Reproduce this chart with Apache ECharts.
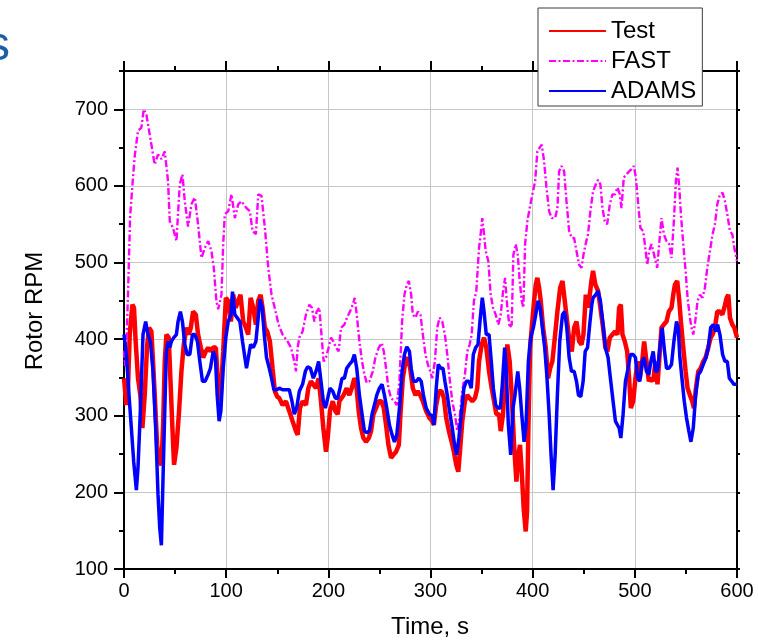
<!DOCTYPE html>
<html>
<head>
<meta charset="utf-8">
<script src="https://cdn.jsdelivr.net/npm/echarts@6/dist/echarts.min.js"></script>
<style>
html,body{margin:0;padding:0;background:#fff;}
#c{width:758px;height:641px;}
</style>
</head>
<body>
<div id="c"></div>
<script>
// ---- Data (time in s, rotor speed in RPM) ----
const testT = [0,2.3,3.9,5.6,8.2,9.8,11.4,13.7,16,18,20.3,22.5,24.5,26.8,28.4,30.1,32.4,34.3,36.6,38.2,39.9,41.5,43.8,45.4,47.4,49,51.3,53.9,56.2,58.5,61.1,63.4,65.4,67.6,70.3,72.5,75.2,77.5,80.1,82.4,84.6,87.3,89.9,92.2,94.4,97.1,99.7,102,104.6,106.9,109.2,111.8,114,116.7,119.3,121.6,123.9,126.5,129.1,131.4,133.7,135.6,137.9,140.2,142.8,145.4,147.7,
150,152,155.2,158.5,161.8,165,168.3,170,172.2,174.8,178.1,180.4,183,185.3,187.9,190.5,192.8,195.1,197.7,199.4,201.6,204.3,206.9,209.2,210.8,212.4,215,218,220.6,222.9,225.5,227.1,229.7,232,234.3,236.9,239.6,241.8,244.1,246.7,249.4,252,254.3,256.5,258.8,261.4,263.7,266.3,269,270.6,272.9,275.5,277.8,280.1,282.7,285.3,287.6,289.9,292.5,295.8,299,
301.7,303.3,305.6,308.2,310.9,313.1,315.4,318,320.7,322.9,325.2,327.2,329.1,331.1,333.7,336,338.3,340.9,343.5,345.8,347.5,350.1,352.4,354.6,357.3,359.9,362.2,364.4,367.1,368.7,371,373,375.2,377.5,379.5,381.8,384.1,386,387.6,389.3,391.2,393.2,394.5,395.8,397.5,399.1,401.4,403,404.6,406.3,407.9,410.2,412.8,415.1,417.1,419.3,422,424.2,426.9,429.2,431.4,434.1,436.3,438.3,440.6,442.9,445.5,447.8,449.7,452,
454.2,455.9,457.5,459.1,461.4,464,466.3,468.9,471.2,473.2,475.5,478.1,480.7,483,484.6,486.3,487.9,490.2,492.5,494.4,496.1,498.4,500.6,502.6,504.9,507.2,509.1,511.4,513.7,515.7,518,520.2,522.2,523.8,526.1,528.4,531,533.3,535.9,537.6,539.2,541.5,543.5,545.1,547.4,549.7,551.6,553.9,556.2,557.8,559.8,562.1,564.4,567,569.3,571.9,574.2,576.1,578.4,580.7,583.3,585.6,587.6,589.9,591.5,593.1,595.4,597.4,600];
const testV = [349,314,336,406,445,441,397,349,327,284,327,389,415,410,371,327,262,240,236,284,371,406,402,349,284,236,258,306,358,393,415,406,415,436,432,406,389,376,384,389,384,389,389,336,319,384,454,450,423,458,441,450,458,423,415,406,454,441,419,450,458,441,415,410,397,362,332,
325,323,314,319,306,293,280,275,310,319,314,336,345,341,336,349,319,284,253,271,306,319,306,302,319,319,327,336,327,336,349,345,306,284,271,266,271,280,302,310,319,319,310,288,262,245,249,253,262,302,349,371,376,362,336,327,332,327,319,306,297,
293,288,314,332,332,323,297,280,266,253,236,227,258,293,319,327,323,319,323,336,371,393,402,389,358,336,319,302,302,280,302,354,393,371,327,262,214,249,262,227,179,149,175,284,389,415,450,471,480,467,450,415,389,349,362,371,406,436,467,476,450,419,393,384,415,423,397,393,406,458,
441,458,476,489,471,463,441,415,389,384,402,406,410,406,441,445,406,397,384,349,310,319,349,371,349,371,397,371,345,349,345,371,341,371,415,419,423,436,441,458,471,476,450,423,389,358,336,327,319,310,336,358,362,371,376,389,402,406,415,436,436,432,441,454,458,428,419,415,402];

const fastT = [0,1,2.5,3.9,6,8.8,10.5,13.7,17,19.3,21.9,25.2,28.4,30,33.3,36.6,39.9,43.1,44.8,48,51.3,54.6,57.2,59.5,62.7,66,69.3,72.5,75.8,79.1,82.4,85.6,87.9,90.5,92.2,95.4,97.1,98.7,102,105.2,108.5,111.8,115,119.9,123.2,125.8,129.1,131.4,134.6,137.9,141.2,144.4,147.5,
151.3,155.2,160.1,163.4,166.7,168.3,170,171.6,174.8,178.1,181.4,184,186.3,188.6,191.2,193.5,195.4,197.7,200.3,202.6,204.9,207.5,210.1,212.4,215.7,218.3,221.2,223.9,225.8,227.8,230.4,233,235.3,237.6,240.2,243.5,246.1,249.4,252.3,254.3,256.5,258.8,261.4,264.7,267,269.6,272.2,274.5,276.8,278.8,281.1,282.7,285.3,287.6,290.2,292.5,295.1,297.4,299.7,
301.7,304.3,306.6,308.9,311.5,314.1,316.4,318.7,321.3,323.9,326.2,328.5,331.1,333.7,336,338.3,340.3,342.5,344.8,347.5,349.1,350.7,352.4,354,356.6,358.9,361.2,363.8,366.4,368.7,371,373,375.2,377.5,379.5,381.1,383.4,385.4,387.3,389.3,390.9,392.6,394.8,397.1,399.7,402.4,404.6,406.9,408.9,411.2,413.5,416.1,418.7,422,424.2,425.9,428.2,430.8,433.1,435.7,438.3,440.6,442.9,445.5,447.8,449.7,
452,454.2,456.5,459.1,461.8,464,466.3,468.3,470.6,472.9,475.5,478.1,480.7,483,485.3,486.9,489.2,491.8,494.4,496.7,499,501,503.3,505.5,508.2,509.8,512.1,514,516.3,518,520.2,521.9,523.8,526.1,528.4,531,533.6,535.9,538.2,540.2,541.8,543.5,545.1,547.4,549.7,551.6,553.9,555.5,557.2,559.1,561.4,563.7,566.3,568.6,570.9,573.5,576.1,578.4,580.7,583.3,585.9,588.2,590.5,593.1,595.4,597.4,600];
const fastV = [385,365,400,458,560,611,639,672,676,700,693,667,641,628,641,635,645,606,554,545,528,602,615,580,547,576,585,550,506,519,528,515,493,449,439,458,524,563,567,589,558,576,580,571,567,541,537,589,587,545,493,458,441,
419,406,397,389,371,358,389,402,410,432,445,441,423,436,441,402,371,376,389,402,397,389,384,415,419,428,436,445,454,432,397,371,354,343,345,358,376,389,395,384,362,336,323,319,314,345,423,458,471,476,458,432,428,436,432,406,380,367,358,
349,371,415,428,423,406,380,349,319,302,280,297,332,354,384,393,406,450,462,519,537,558,537,515,502,458,441,432,419,432,462,480,441,415,419,510,524,510,476,450,441,524,554,571,589,606,645,650,654,632,598,567,558,558,571,619,626,619,580,541,532,532,515,497,493,510,
525,537,567,593,602,608,602,571,554,550,576,589,589,598,589,571,611,615,619,622,626,611,576,545,541,524,497,515,524,515,502,493,524,558,537,528,524,506,554,606,624,598,563,524,489,454,428,415,406,423,450,458,454,467,493,515,537,550,576,589,591,580,563,541,537,519,502];

const adamsT = [0,2.3,4.9,7.2,9.5,12.1,13.7,16,18.6,21.2,23.5,25.8,28.4,31,33.3,35,36.6,38.2,39.9,41.5,43.1,44.8,46.4,48.7,51.3,52.9,55.2,57.2,59.5,61.8,64.4,67,69.3,71.9,74.2,76.8,79.4,82.4,84.6,87.3,89.5,91.2,93.1,94.8,97.1,99.7,102,104.6,106.2,108.5,110.8,113.4,116,118.3,119.9,122.2,123.9,126.5,129.1,131,133,135.3,137.3,139.5,142.2,144.4,146.7,149.3,
152,155.2,158.5,161.8,164.4,166.7,169,171.6,174.8,177.5,179.7,182.4,185.3,187.9,190.5,192.8,195.1,197.1,199.4,201.6,204.3,206.9,209.2,211.4,213.4,215.7,218,220.6,223.2,225.5,227.8,230.4,233,235.3,237.6,240.2,242.8,245.1,247.4,250,252.6,254.9,257.2,259.8,262.4,264.7,267,269.6,272.2,274.5,276.8,279.4,281.1,283.3,286,288.6,290.9,293.1,295.8,299,
301.7,303.3,305.6,307.6,309.9,312.2,314.1,316.4,318.7,321.3,323.6,325.6,327.8,330.1,332.7,335,337.6,339.9,341.9,344.2,346.5,348.4,350.7,352.4,354.6,357.3,359.5,361.5,363.8,366.1,368.4,370.3,372.6,374.2,376.2,378.5,380.8,382.7,385.4,387.3,389.3,391.6,393.5,395.8,398.1,400.7,403,405.3,407.3,409.5,411.8,413.8,416.1,418,420,422,424.2,426.5,429.2,431.4,433.4,435.7,438,440.6,442.9,444.8,447.1,449.4,451.4,453.7,455.9,457.9,
459.1,461.8,464,466.3,468.9,471.2,473.8,476.1,478.7,481,483,484.6,486.3,488.5,490.8,493.4,495.7,498.4,500.6,502.6,504.9,507.2,509.1,511.4,513.7,515.7,518,520.2,522.2,524.5,526.8,528.7,531,533.3,535.9,538.2,540.8,542.5,544.1,546.4,548.4,550.6,552.9,554.9,557.2,559.5,562.1,564.4,567,569.6,571.9,574.2,576.8,579.1,581,583.3,585.9,588.2,590.5,592.5,594.8,597,600];
const adamsV = [406,380,327,284,240,203,232,306,406,423,406,397,358,284,197,153,131,219,306,384,397,389,397,402,406,423,436,423,393,380,380,406,406,397,371,345,345,354,362,384,376,327,293,306,362,402,423,432,462,432,428,423,397,376,362,380,393,389,397,423,452,441,406,376,362,349,334,334,
336,334,334,334,319,302,310,332,341,358,364,362,349,358,371,345,319,310,323,336,332,323,323,336,349,349,362,367,371,380,362,327,302,280,278,280,302,314,327,336,341,327,310,288,275,266,275,310,358,380,390,384,362,345,345,349,345,327,310,302,
300,288,336,367,362,362,345,327,306,284,262,249,271,302,336,345,345,336,380,389,393,423,454,436,406,406,371,336,314,310,310,341,389,358,288,249,310,327,358,336,302,266,288,371,402,415,432,450,441,415,389,354,302,249,203,249,327,397,432,436,415,376,358,358,345,327,325,345,384,389,420,445,
454,458,463,450,419,389,376,349,319,293,288,284,271,302,345,362,380,380,376,349,345,371,376,358,354,371,384,358,358,389,415,389,362,362,367,397,423,415,376,345,319,297,280,266,284,327,354,358,367,376,389,415,419,410,419,406,380,371,371,349,345,341,341];

const xTicks = [0,100,200,300,400,500,600];
const yTicks = [100,200,300,400,500,600,700];
const seriesNames = ['Test','FAST','ADAMS'];

function pairs(t, v){ return t.map((x,i)=>[x, v[i]]); }

const FONT = '"Liberation Sans", Arial, Helvetica, sans-serif';
const chart = echarts.init(document.getElementById('c'), null, {renderer:'canvas'});

const tickStyle = {color:'#000', width:2};
const gridColor = '#c6c6c6';

const option = {
  animation:false,
  backgroundColor:'#fff',
  textStyle:{fontFamily:FONT},
  grid:{left:124, right:21, top:71, bottom:72, containLabel:false, outerBoundsMode:'none'},
  legend:{
    orient:'vertical', left:538, top:8,
    padding:[11,6,3,10],
    itemWidth:57, itemHeight:14, itemGap:6,
    backgroundColor:'#fff', borderColor:'#3c3c3c', borderWidth:1, borderRadius:0,
    textStyle:{fontSize:24, color:'#000', fontFamily:FONT},
    itemStyle:{color:'rgba(0,0,0,0)', borderWidth:0, opacity:0},
    data:seriesNames,
    selectedMode:false
  },
  graphic:[{
    type:'text', left:-14, top:23, z:10,
    style:{text:'s', font:'48px ' + FONT, fill:'#1a5ea8'}
  },{
    type:'text', x:35, y:311, rotation:Math.PI/2, z:10,
    style:{text:'Rotor RPM', font:'24px ' + FONT, fill:'#000', align:'center', verticalAlign:'middle'}
  },{
    type:'text', x:430, y:627, z:10,
    style:{text:'Time, s', font:'24px ' + FONT, fill:'#000', align:'center', verticalAlign:'middle'}
  }],
  xAxis:[{
    type:'value', min:0, max:600, interval:100, position:'bottom',
    axisLine:{show:true, onZero:false, lineStyle:tickStyle},
    axisTick:{show:true, inside:false, length:9, lineStyle:tickStyle},
    minorTick:{show:true, splitNumber:2, length:5, lineStyle:tickStyle},
    axisLabel:{fontSize:20, color:'#000', fontFamily:FONT, margin:12},
    splitLine:{show:true, lineStyle:{color:gridColor, width:1}}
  },{
    type:'value', min:0, max:600, interval:100, position:'top',
    axisLine:{show:true, onZero:false, lineStyle:tickStyle},
    axisTick:{show:true, inside:false, length:10, lineStyle:tickStyle},
    minorTick:{show:true, splitNumber:2, length:5, lineStyle:tickStyle},
    axisLabel:{show:false},
    splitLine:{show:false}
  }],
  yAxis:[{
    type:'value', min:100, max:750, interval:100, position:'left',
    axisLine:{show:true, onZero:false, lineStyle:tickStyle},
    axisTick:{show:true, inside:false, length:10, lineStyle:tickStyle, customValues:yTicks},
    axisLabel:{fontSize:20, color:'#000', fontFamily:FONT, margin:16, customValues:yTicks,
      formatter:function(v){ return v > 700 ? '' : String(v); }},
    splitLine:{show:true, lineStyle:{color:gridColor, width:1}}
  },{
    type:'value', min:100, max:750, interval:50, position:'left',
    axisLine:{show:false},
    axisTick:{show:true, inside:false, length:5, lineStyle:tickStyle},
    axisLabel:{show:false}, splitLine:{show:false}
  },{
    type:'value', min:100, max:750, interval:50, position:'right',
    axisLine:{show:true, onZero:false, lineStyle:tickStyle},
    axisTick:{show:true, inside:false, length:3, lineStyle:tickStyle},
    axisLabel:{show:false}, splitLine:{show:false}
  }],
  series:[{
    name:seriesNames[0], type:'line', xAxisIndex:0, yAxisIndex:0,
    symbol:'none', showSymbol:false,
    data:pairs(testT, testV),
    lineStyle:{color:'#ff0000', width:4.5},
    itemStyle:{color:'#ff0000'}, z:2
  },{
    name:seriesNames[1], type:'line', xAxisIndex:0, yAxisIndex:0,
    symbol:'none', showSymbol:false,
    data:pairs(fastT, fastV),
    lineStyle:{color:'#ff00ff', width:2.4, type:[7,2.5,2,2.5]},
    itemStyle:{color:'#ff00ff'}, z:3
  },{
    name:seriesNames[2], type:'line', xAxisIndex:0, yAxisIndex:0,
    symbol:'none', showSymbol:false,
    data:pairs(adamsT, adamsV),
    lineStyle:{color:'#0000ff', width:3.5},
    itemStyle:{color:'#0000ff'}, z:4
  }]
};
chart.setOption(option);
</script>
</body>
</html>
